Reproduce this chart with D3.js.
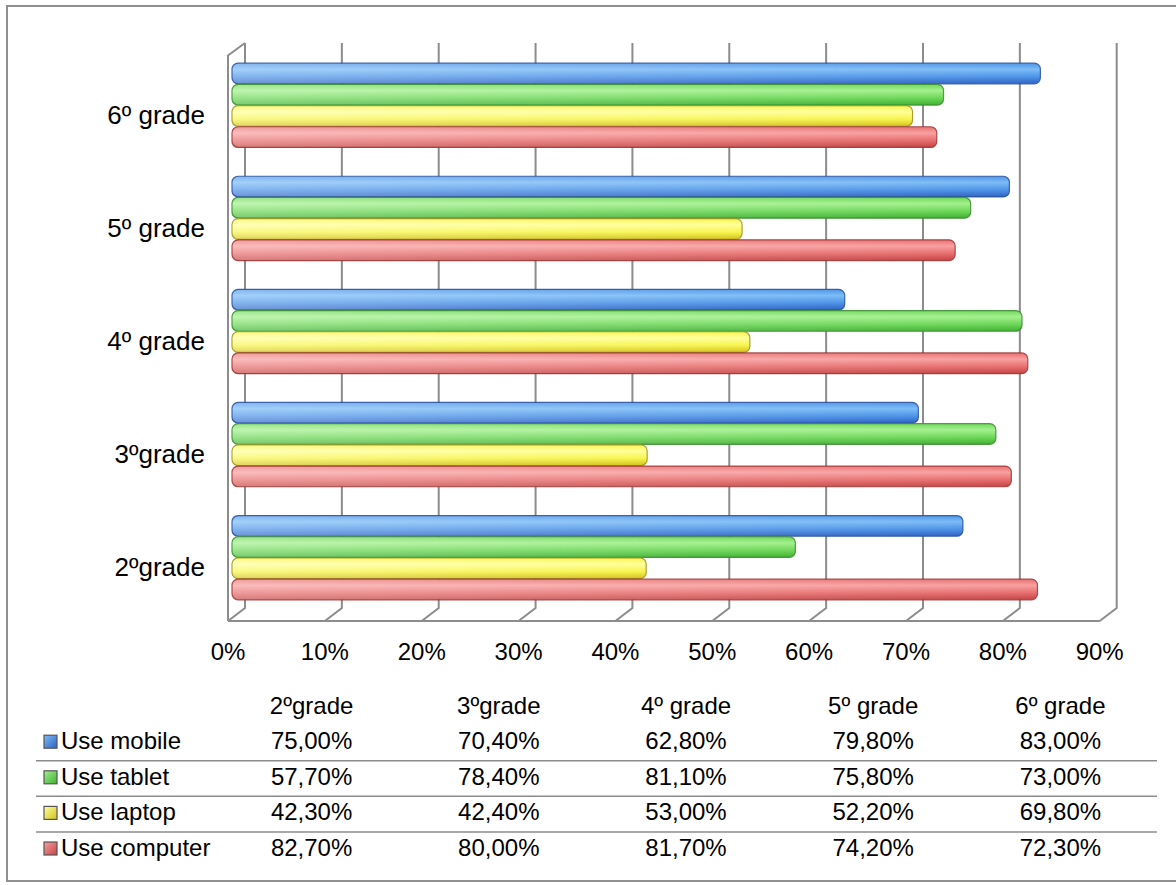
<!DOCTYPE html>
<html>
<head>
<meta charset="utf-8">
<script src="https://cdn.jsdelivr.net/npm/d3@7"></script>
<style>
  html, body { margin: 0; padding: 0; background: #ffffff; }
  svg { display: block; }
  text { font-family: "Liberation Sans", Arial, sans-serif; fill: #000; }
</style>
</head>
<body>
<svg id="chart" width="1176" height="885"></svg>
<script>
// ---------- data ----------
const categories = ["2ºgrade", "3ºgrade", "4º grade", "5º grade", "6º grade"];
const seriesNames = ["Use mobile", "Use tablet", "Use laptop", "Use computer"];
const useMobile   = [75.0, 70.4, 62.8, 79.8, 83.0];
const useTablet   = [57.7, 78.4, 81.1, 75.8, 73.0];
const useLaptop   = [42.3, 42.4, 53.0, 52.2, 69.8];
const useComputer = [82.7, 80.0, 81.7, 74.2, 72.3];
const xTicks = [0, 10, 20, 30, 40, 50, 60, 70, 80, 90];
const xTickLabels = ["0%", "10%", "20%", "30%", "40%", "50%", "60%", "70%", "80%", "90%"];

const seriesValues = [useMobile, useTablet, useLaptop, useComputer];

// ---------- styles ----------
const palette = [
  { light: "#7cbcf6", mid: "#4f95e8", dark: "#2f62c4", stroke: "#28509a" },
  { light: "#a4f08e", mid: "#6fd85a", dark: "#40b032", stroke: "#3a8a30" },
  { light: "#ffff9a", mid: "#f7f550", dark: "#d2c21e", stroke: "#9a9020" },
  { light: "#f8a0a0", mid: "#e87070", dark: "#c44444", stroke: "#9a3434" }
];
const gridColor = "#8c8c8c";
const fontSize = 24;
const catFontSize = 26;

const svg = d3.select("#chart");

// ---------- frame ----------
svg.append("path")
  .attr("d", "M1176,6 L7,6 L7,881 L1176,881")
  .attr("fill", "none")
  .attr("stroke", "#8f8f8f")
  .attr("stroke-width", 2);

// ---------- scales ----------
const xBack  = d3.scaleLinear().domain([0, 90]).range([245, 1116.7]);
const xFront = d3.scaleLinear().domain([0, 90]).range([228, 1099.7]);
const xMid   = d3.scaleLinear().domain([0, 90]).range([236.5, 1108.2]);

const catOrder = categories.slice().reverse(); // top to bottom
const y = d3.scaleBand().domain(catOrder).range([49, 614.5]).paddingInner(0.25).paddingOuter(0.125);
const ySub = d3.scaleBand().domain(seriesNames).range([0, y.bandwidth()]);

const backTop = 43, backBottom = 608, frontTop = 55.5, frontBottom = 621;

// ---------- defs: gradients ----------
const defs = svg.append("defs");
palette.forEach((p, i) => {
  const g = defs.append("linearGradient").attr("id", "bar" + i)
    .attr("x1", 0).attr("y1", 0).attr("x2", 0).attr("y2", 1);
  g.append("stop").attr("offset", "0%").attr("stop-color", p.mid);
  g.append("stop").attr("offset", "30%").attr("stop-color", p.light);
  g.append("stop").attr("offset", "65%").attr("stop-color", p.mid);
  g.append("stop").attr("offset", "100%").attr("stop-color", p.dark);
  const s = defs.append("linearGradient").attr("id", "sq" + i)
    .attr("x1", 0).attr("y1", 0).attr("x2", 1).attr("y2", 1);
  s.append("stop").attr("offset", "0%").attr("stop-color", p.light);
  s.append("stop").attr("offset", "100%").attr("stop-color", p.dark);
});
const fade = defs.append("linearGradient").attr("id", "fade")
  .attr("x1", 0).attr("y1", 0).attr("x2", 1).attr("y2", 0);
fade.append("stop").attr("offset", "0%").attr("stop-color", "#fff").attr("stop-opacity", 0.3);
fade.append("stop").attr("offset", "100%").attr("stop-color", "#fff").attr("stop-opacity", 0);

// ---------- 3D frame: back wall gridlines, floor, left wall ----------
const grid = svg.append("g").attr("stroke", gridColor).attr("stroke-width", 2).attr("fill", "none");
grid.selectAll("path.grid").data(xTicks).join("path")
  .attr("class", "grid")
  .attr("d", t => `M${xBack(t)},${backTop} L${xBack(t)},${backBottom} L${xFront(t)},${frontBottom}`);
grid.append("path")
  .attr("d", `M${xFront(0)},${frontBottom} L${xFront(90)},${frontBottom}`);
grid.append("path")
  .attr("d", `M${xFront(0)},${frontBottom} L${xFront(0)},${frontTop} L${xBack(0)},${backTop}`);

// ---------- bars ----------
const barRows = [];
categories.forEach((c, ci) => {
  seriesNames.forEach((s, si) => {
    barRows.push({ cat: c, series: s, si: si, value: seriesValues[si][ci] });
  });
});

const barsG = svg.append("g");
const startX = xMid(0) - 4.5;
const barH = ySub.bandwidth();

barsG.selectAll("rect.bar").data(barRows).join("rect")
  .attr("class", "bar")
  .attr("x", startX)
  .attr("y", d => y(d.cat) + ySub(d.series))
  .attr("width", d => xMid(d.value) - startX)
  .attr("height", barH - 0.5)
  .attr("rx", 6).attr("ry", 6)
  .attr("fill", d => `url(#bar${d.si})`)
  .attr("stroke", d => palette[d.si].stroke)
  .attr("stroke-opacity", 0.85)
  .attr("stroke-width", 1.2);

barsG.selectAll("rect.fade").data(barRows).join("rect")
  .attr("class", "fade")
  .attr("x", startX + 0.6)
  .attr("y", d => y(d.cat) + ySub(d.series) + 0.6)
  .attr("width", d => xMid(d.value) - startX - 1.2)
  .attr("height", barH - 1.7)
  .attr("rx", 6).attr("ry", 6)
  .attr("fill", "url(#fade)");

// ---------- axis labels ----------
svg.append("g").selectAll("text").data(categories).join("text")
  .attr("x", 205)
  .attr("y", c => y(c) + y.bandwidth() / 2 + 18)
  .attr("text-anchor", "end")
  .attr("font-size", catFontSize)
  .text(c => c);

svg.append("g").selectAll("text").data(xTicks).join("text")
  .attr("x", t => xFront(t))
  .attr("y", 660)
  .attr("text-anchor", "middle")
  .attr("font-size", fontSize)
  .text((t, i) => xTickLabels[i]);

// ---------- data table ----------
const col = d3.scaleBand().domain(categories).range([218, 1154]);
const rowY = d3.scaleBand().domain(["header"].concat(seriesNames)).range([690, 868]);
const baseOf = key => rowY(key) + rowY.bandwidth() - 12;
const fmt = v => d3.format(".2f")(v).replace(".", ",") + "%";

const table = svg.append("g");
table.selectAll("text.hdr").data(categories).join("text")
  .attr("class", "hdr")
  .attr("x", c => col(c) + col.bandwidth() / 2)
  .attr("y", baseOf("header"))
  .attr("text-anchor", "middle")
  .attr("font-size", fontSize)
  .text(c => c);

table.selectAll("line.sep").data(seriesNames.slice(1)).join("line")
  .attr("class", "sep")
  .attr("x1", 36).attr("x2", 1157)
  .attr("y1", s => rowY(s) - 0.5).attr("y2", s => rowY(s) - 0.5)
  .attr("stroke", "#8c8c8c").attr("stroke-width", 1.5);

const rows = table.selectAll("g.row").data(seriesNames).join("g").attr("class", "row");
rows.append("rect")
  .attr("x", 44).attr("y", s => baseOf(s) - 14)
  .attr("width", 13).attr("height", 13)
  .attr("fill", (s, i) => `url(#sq${i})`)
  .attr("stroke", "#555").attr("stroke-width", 1.2);
rows.append("text")
  .attr("x", 61).attr("y", s => baseOf(s))
  .attr("font-size", fontSize)
  .text(s => s);
rows.each(function (s, si) {
  d3.select(this).selectAll("text.val").data(categories).join("text")
    .attr("class", "val")
    .attr("x", c => col(c) + col.bandwidth() / 2)
    .attr("y", baseOf(s))
    .attr("text-anchor", "middle")
    .attr("font-size", fontSize)
    .text((c, ci) => fmt(seriesValues[si][ci]));
});
</script>
</body>
</html>
